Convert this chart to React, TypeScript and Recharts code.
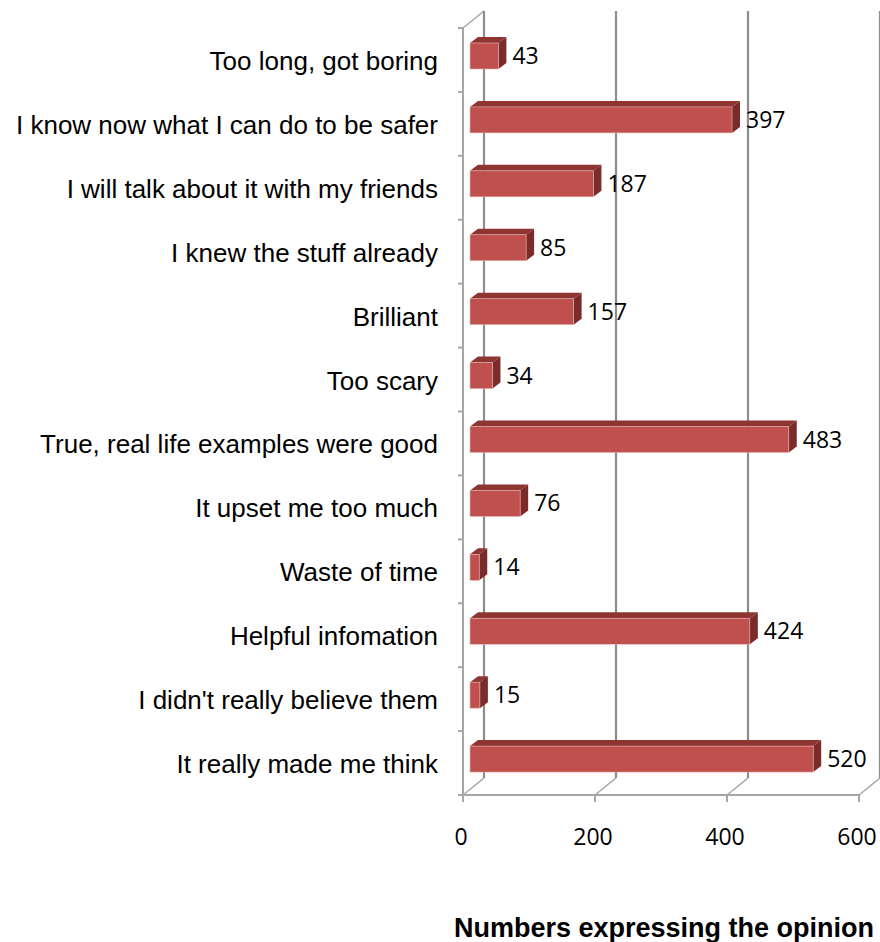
import { BarChart, Bar, XAxis, YAxis, CartesianGrid, LabelList } from 'recharts'

const opinions = [
  'Too long, got boring',
  'I know now what I can do to be safer',
  'I will talk about it with my friends',
  'I knew the stuff already',
  'Brilliant',
  'Too scary',
  'True, real life examples were good',
  'It upset me too much',
  'Waste of time',
  'Helpful infomation',
  "I didn't really believe them",
  'It really made me think'
]
const counts = [43, 397, 187, 85, 157, 34, 483, 76, 14, 424, 15, 520]
const xTicks = [0, 200, 400, 600]

const data = opinions.map((name, i) => ({ name, count: counts[i] }))

// chart geometry
const W = 880
const H = 942
const TOP = 28
const AXIS_H = 147
const PLOT_H = H - TOP - AXIS_H
const BAND = PLOT_H / opinions.length
const DX = 21 // depth of the walls
const DY = 17
const BAR_DX = 8 // depth of a bar
const BAR_DY = 6

const GRID = '#8c8c8c'
const WALL = '#a6a6a6'
const FRONT = '#c0504d'
const TOPFACE = '#8e3532'
const SIDE = '#7a2c2a'

const BarBox = (props: any) => {
  const { x, y, width, height } = props
  const fx = x + 7
  const fy = y - 4
  return (
    <g>
      <polygon
        points={`${fx},${fy} ${fx + BAR_DX},${fy - BAR_DY} ${fx + width + BAR_DX},${fy - BAR_DY} ${fx + width},${fy}`}
        fill={TOPFACE}
      />
      <polygon
        points={`${fx + width},${fy} ${fx + width + BAR_DX},${fy - BAR_DY} ${fx + width + BAR_DX},${fy + height - BAR_DY} ${fx + width},${fy + height}`}
        fill={SIDE}
      />
      <rect x={fx} y={fy} width={width} height={height} fill={FRONT} stroke="#e8b4b3" strokeWidth={0.6} />
    </g>
  )
}

const ValueLabel = (props: any) => {
  const { x, y, width, height, value } = props
  return (
    <text
      x={x + 7 + width + 14}
      y={y - 4 + height / 2 + 8}
      fontFamily="'Open Sans', sans-serif"
      fontSize={23}
      fill="#000"
    >
      {value}
    </text>
  )
}

const CategoryTick = (props: any) => {
  const { x, y, payload, index } = props
  const last = index === opinions.length - 1
  return (
    <g>
      <line x1={x - 5} x2={x} y1={y - BAND / 2} y2={y - BAND / 2} stroke={WALL} strokeWidth={2} />
      {last && <line x1={x - 5} x2={x} y1={y + BAND / 2} y2={y + BAND / 2} stroke={WALL} strokeWidth={2} />}
      <text
        x={x - 25}
        y={y + 10}
        textAnchor="end"
        fontFamily="'Liberation Sans', Arial, sans-serif"
        fontSize={26}
        fill="#000"
      >
        {payload.value}
      </text>
    </g>
  )
}

const ValueTick = (props: any) => {
  const { x, payload } = props
  return (
    <text
      x={x - 2}
      y={TOP + PLOT_H + 50}
      textAnchor="middle"
      fontFamily="'Open Sans', sans-serif"
      fontSize={23}
      fill="#000"
    >
      {payload.value}
    </text>
  )
}

const WallLine = (props: any) => {
  const { x1, y1, y2, index } = props
  return (
    <g>
      {index === 0 && (
        <line x1={x1} y1={y1} x2={x1 + DX} y2={y1 - DY} stroke={WALL} strokeWidth={1.5} />
      )}
      <line x1={x1 + DX} y1={y1 - DY} x2={x1 + DX} y2={y2 - DY} stroke={GRID} strokeWidth={2.2} />
      <line x1={x1} y1={y2} x2={x1 + DX} y2={y2 - DY} stroke={WALL} strokeWidth={1.5} />
    </g>
  )
}

export default function App() {
  return (
    <div style={{ position: 'absolute', left: 0, top: 0, width: W, height: H, background: '#fff' }}>
      <BarChart
        width={W}
        height={H}
        data={data}
        layout="vertical"
        margin={{ top: TOP, right: 21, left: 0, bottom: 0 }}
        barSize={26}
      >
        <CartesianGrid horizontal={false} vertical={WallLine} />
        <XAxis
          type="number"
          domain={[0, 600]}
          ticks={xTicks}
          height={AXIS_H}
          axisLine={{ stroke: WALL, strokeWidth: 2 }}
          tickLine={{ stroke: WALL, strokeWidth: 2 }}
          tickSize={7}
          tick={ValueTick}
        />
        <YAxis
          type="category"
          dataKey="name"
          width={463}
          axisLine={{ stroke: WALL, strokeWidth: 2 }}
          tickLine={false}
          tickSize={0}
          tickMargin={0}
          tick={CategoryTick}
          interval={0}
        />
        <Bar dataKey="count" shape={BarBox} isAnimationActive={false}>
          <LabelList dataKey="count" content={ValueLabel} />
        </Bar>
      </BarChart>
      <div
        style={{
          position: 'absolute',
          left: 450,
          top: 913,
          width: 428,
          textAlign: 'center',
          fontFamily: "'Liberation Sans', Arial, sans-serif",
          fontWeight: 'bold',
          fontSize: 27,
          lineHeight: '30px',
          whiteSpace: 'nowrap',
          color: '#000'
        }}
      >
        Numbers expressing the opinion
      </div>
    </div>
  )
}
